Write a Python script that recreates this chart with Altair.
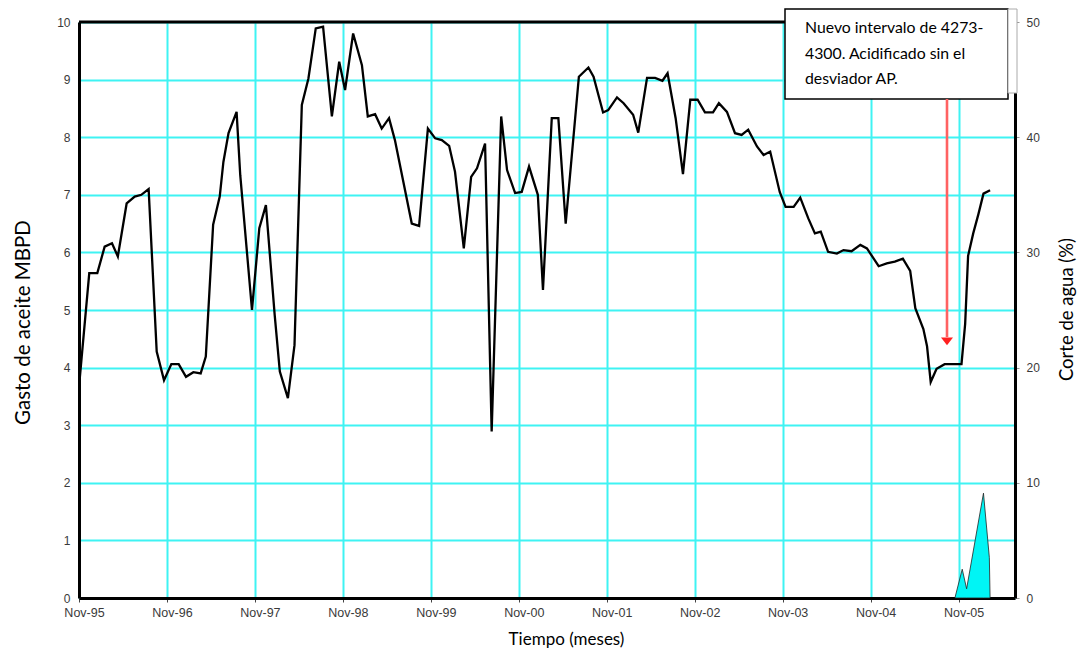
import altair as alt
import pandas as pd

# ---- data ----
tick_labels = ["Nov-95", "Nov-96", "Nov-97", "Nov-98", "Nov-99", "Nov-00",
               "Nov-01", "Nov-02", "Nov-03", "Nov-04", "Nov-05"]
tick_months = [0, 12, 24, 36, 48, 60, 72, 84, 96, 108, 120]

# months since Nov-95
oil_month = [0.1, 1.4, 2.5, 3.5, 4.5, 5.3, 6.5, 7.6, 8.5, 9.5, 10.6, 11.6, 12.6, 13.6,
             14.6, 15.6, 16.6, 17.3, 18.3, 19.2, 19.7, 20.4, 21.5, 22.0, 23.6, 24.6,
             25.5, 26.7, 27.4, 28.5, 29.4, 30.4, 31.3, 32.3, 33.3, 34.5, 35.5, 36.3,
             37.4, 38.6, 39.4, 40.4, 41.3, 42.3, 43.1, 45.4, 46.4, 47.6, 48.6, 49.5,
             50.5, 51.3, 52.5, 53.5, 54.3, 55.4, 56.3, 57.6, 58.4, 59.5, 60.4, 61.4,
             62.6, 63.3, 64.5, 65.4, 66.4, 68.2, 69.5, 70.2, 71.5, 72.2, 73.4, 74.3,
             75.6, 76.3, 77.5, 78.6, 79.6, 80.3, 81.4, 82.4, 83.4, 84.4, 85.4, 86.5,
             87.3, 88.4, 89.5, 90.4, 91.3, 92.5, 93.4, 94.3, 95.6, 96.4, 97.5, 98.4,
             99.5, 100.4, 101.2, 102.2, 103.4, 104.3, 105.4, 106.6, 107.5, 109.1,
             110.2, 111.3, 112.4, 113.4, 114.1, 115.2, 115.7, 116.2, 117.0, 118.1,
             119.3, 120.4, 120.9, 121.3, 122.0, 122.7, 123.4, 124.3]
oil_rate = [3.81, 5.64, 5.64, 6.10, 6.16, 5.93, 6.85, 6.97, 7.00, 7.10, 4.28, 3.78, 4.06, 4.06,
            3.84, 3.92, 3.90, 4.19, 6.48, 6.97, 7.57, 8.07, 8.44, 7.34, 5.00, 6.42,
            6.82, 4.91, 3.93, 3.47, 4.39, 8.56, 9.02, 9.89, 9.92, 8.36, 9.31, 8.82,
            9.80, 9.25, 8.36, 8.40, 8.15, 8.33, 7.95, 6.50, 6.46, 8.15, 7.98, 7.95,
            7.85, 7.40, 6.07, 7.31, 7.46, 7.89, 2.89, 8.36, 7.43, 7.03, 7.05, 7.49,
            7.00, 5.35, 8.33, 8.33, 6.50, 9.05, 9.21, 9.05, 8.43, 8.47, 8.69, 8.59,
            8.39, 8.08, 9.03, 9.03, 8.98, 9.11, 8.33, 7.36, 8.65, 8.65, 8.43, 8.43,
            8.59, 8.44, 8.07, 8.04, 8.13, 7.84, 7.69, 7.75, 7.05, 6.79, 6.79, 6.95,
            6.59, 6.33, 6.36, 6.01, 5.98, 6.04, 6.02, 6.13, 6.07, 5.76,
            5.81, 5.84, 5.89, 5.68, 5.03, 4.67, 4.37, 3.75, 3.98, 4.06,
            4.06, 4.06, 4.76, 5.94, 6.33, 6.66, 7.02, 7.08]

water_month = [119.5, 120.5, 121.1, 123.4, 124.2, 124.3]
water_cut = [0.0, 2.5, 0.8, 9.1, 3.5, 0.0]

note_lines = ["Nuevo intervalo de 4273-", "4300. Acidificado sin el", "desviador AP."]

x_title = "Tiempo (meses)"
y_left_title = "Gasto de aceite MBPD"
y_right_title = "Corte de agua (%)"

oil_df = pd.DataFrame({"mes": oil_month, "gasto": oil_rate})
water_df = pd.DataFrame({"mes": water_month, "corte": water_cut})
one_row = pd.DataFrame({"k": [0]})

W, H = 936, 576
X_MAX = 127.7
GRID = "#3ff3f3"
TITLE_FONT = "Lato"
LABEL_FONT = "Liberation Sans"
LABEL_COLOR = "#3a3a3a"

label_expr = "[" + ",".join(f"'{t}'" for t in tick_labels) + "][round(datum.value / 12)]"

x_enc = alt.X(
    "mes:Q",
    scale=alt.Scale(domain=[0, X_MAX], nice=False, zero=False),
    axis=alt.Axis(
        values=tick_months, labelExpr=label_expr, title=x_title,
        grid=True, gridColor=GRID, gridWidth=2,
        domainColor="black", domainWidth=3,
        ticks=True, tickSize=4, tickColor="#444",
        labelFont=LABEL_FONT, labelFontSize=12.5, labelColor=LABEL_COLOR, labelPadding=4,
        labelOffset=5, labelFlush=False,
        titleFont=TITLE_FONT, titleFontSize=17, titleFontWeight="normal", titleColor="black",
        titleX=487, titleY=41, titleBaseline="middle", titleAlign="center",
    ),
)

oil_line = alt.Chart(oil_df).mark_line(color="black", strokeWidth=2.3).encode(
    x=x_enc,
    y=alt.Y(
        "gasto:Q",
        scale=alt.Scale(domain=[0, 10], nice=False),
        axis=alt.Axis(
            values=list(range(0, 11)), title=y_left_title, orient="left",
            grid=True, gridColor=GRID, gridWidth=2,
            domainColor="black", domainWidth=3, ticks=False,
            labelFont=LABEL_FONT, labelFontSize=12, labelColor=LABEL_COLOR, labelPadding=9,
            titleFont=TITLE_FONT, titleFontSize=20.5, titleFontWeight="normal", titleColor="black",
            titleAngle=270, titleX=-56, titleY=300, titleBaseline="middle", titleAlign="center",
        ),
    ),
)

water_area = alt.Chart(water_df).mark_area(
    color="#00f5f5", stroke="#222", strokeWidth=0.8, opacity=1
).encode(
    x=alt.X("mes:Q"),
    y=alt.Y(
        "corte:Q",
        scale=alt.Scale(domain=[0, 50], nice=False),
        axis=alt.Axis(
            values=[0, 10, 20, 30, 40, 50], title=y_right_title, orient="right",
            grid=False, domainColor="black", domainWidth=3,
            ticks=True, tickSize=4, tickColor="#999",
            labelFont=LABEL_FONT, labelFontSize=12, labelColor=LABEL_COLOR, labelPadding=7,
            titleFont=TITLE_FONT, titleFontSize=18.5, titleFontWeight="normal", titleColor="black",
            titleAngle=270, titleX=51, titleY=287, titleBaseline="middle", titleAlign="center",
        ),
    ),
)

# frame top line
top_border = alt.Chart(one_row).mark_rule(color="black", strokeWidth=3).encode(
    x=alt.value(0), x2=alt.value(W), y=alt.value(0)
)

# annotation box
note_box = alt.Chart(one_row).mark_rect(fill="white", stroke="black", strokeWidth=1.5).encode(
    x=alt.value(706), x2=alt.value(929), y=alt.value(-13), y2=alt.value(77)
)
side_box = alt.Chart(one_row).mark_rect(fill="white", stroke="#aaa", strokeWidth=1).encode(
    x=alt.value(929), x2=alt.value(938), y=alt.value(-13), y2=alt.value(71)
)
note_text = alt.Chart(one_row).mark_text(
    align="left", baseline="middle", font=TITLE_FONT, fontSize=15.8, lineHeight=25.5, color="black"
).encode(x=alt.value(726), y=alt.value(6), text=alt.value(note_lines))

arrow_line = alt.Chart(one_row).mark_rule(color="#ff6262", strokeWidth=2.6).encode(
    x=alt.value(868), y=alt.value(77), y2=alt.value(315)
)
arrow_head = alt.Chart(one_row).mark_point(
    shape="M-1,-0.6L1,-0.6L0,0.7Z", filled=True, color="#ff2020", opacity=1, size=144
).encode(x=alt.value(868), y=alt.value(319))

chart = alt.layer(
    oil_line, water_area, top_border, note_box, side_box, note_text, arrow_line, arrow_head
).resolve_scale(y="independent").properties(
    width=W, height=H,
    autosize=alt.AutoSizeParams(type="none"),
    padding={"left": 71, "top": 14, "right": 62, "bottom": 50},
).configure_view(stroke=None)

chart.save("out.html", embed_options={"renderer": "svg", "actions": False})
